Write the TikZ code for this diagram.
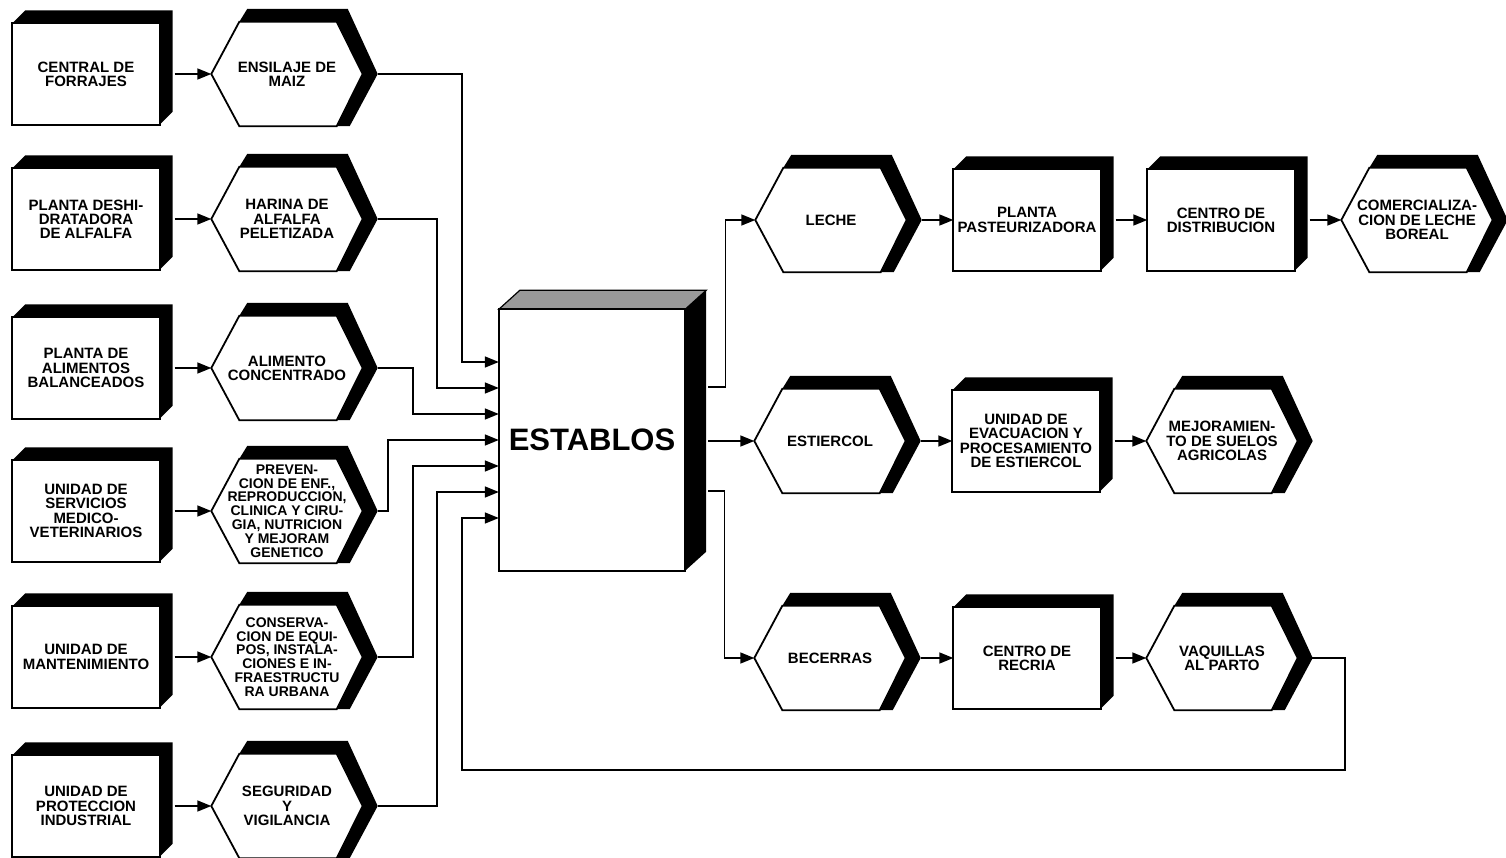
\documentclass[tikz,border=0pt]{standalone}
\usepackage{fontspec}
\setmainfont{Liberation Sans}
\usetikzlibrary{arrows.meta,calc,backgrounds}
\newcommand\rotulo{\fontsize{15}{14.2}\selectfont\bfseries}
\newcommand\chico{\fontsize{14}{13.8}\selectfont\bfseries}
\tikzset{caja/.style={rectangle,minimum width=147pt,minimum height=101pt,inner sep=2pt,align=center,font=\rotulo},hexa/.style={caja,minimum width=151pt,minimum height=104pt},flecha/.style={-{Triangle[length=14pt,width=11pt]},line width=1.6pt},borde/.style={line width=1.8pt,fill=white}}

\begin{document}
\begin{tikzpicture}[x=1pt,y=-1pt]
\useasboundingbox (0,0) rectangle (1506,858);
% servicios
\node[caja] (cfo) at (86,74) {CENTRAL DE\\FORRAJES};
\node[caja] (pda) at (86,219) {PLANTA DESHI-\\DRATADORA\\DE ALFALFA};
\node[caja] (pab) at (86,368) {PLANTA DE\\ALIMENTOS\\BALANCEADOS};
\node[caja] (usm) at (86,511) {UNIDAD DE\\SERVICIOS\\MEDICO-\\VETERINARIOS};
\node[caja] (uma) at (86,657) {UNIDAD DE\\MANTENIMIENTO};
\node[caja] (upi) at (86,806) {UNIDAD DE\\PROTECCION\\INDUSTRIAL};
% insumos
\node[hexa] (ens) at (287,74) {ENSILAJE DE\\MAIZ};
\node[hexa] (har) at (287,219) {HARINA DE\\ALFALFA\\PELETIZADA};
\node[hexa] (ali) at (287,368) {ALIMENTO\\CONCENTRADO};
\node[hexa,font=\chico] (pre) at (287,511) {PREVEN-\\CION DE ENF.,\\REPRODUCCION,\\CLINICA Y CIRU-\\GIA, NUTRICION\\Y MEJORAM\\GENETICO};
\node[hexa,font=\chico] (con) at (287,657) {CONSERVA-\\CION DE EQUI-\\POS, INSTALA-\\CIONES E IN-\\FRAESTRUCTU\\RA URBANA};
\node[hexa] (seg) at (287,806) {SEGURIDAD\\Y\\VIGILANCIA};
% establos
\node[minimum width=186pt,minimum height=261pt,font=\fontsize{31}{31}\selectfont\bfseries] (est) at (592,440) {ESTABLOS};
% productos
\node[hexa] (lec) at (831,220) {LECHE};
\node[caja] (ppa) at (1027,220) {PLANTA\\PASTEURIZADORA};
\node[caja] (cdi) at (1221,220) {CENTRO DE\\DISTRIBUCION};
\node[hexa] (clb) at (1417,220) {COMERCIALIZA-\\CION DE LECHE\\BOREAL};
\node[hexa] (esl) at (830,441) {ESTIERCOL};
\node[caja] (uep) at (1026,441) {UNIDAD DE\\EVACUACION Y\\PROCESAMIENTO\\DE ESTIERCOL};
\node[hexa] (msa) at (1222,441) {MEJORAMIEN-\\TO DE SUELOS\\AGRICOLAS};
\node[hexa] (bec) at (830,658) {BECERRAS};
\node[caja] (cre) at (1027,658) {CENTRO DE\\RECRIA};
\node[hexa] (vaq) at (1222,658) {VAQUILLAS\\AL PARTO};
\coordinate (retorno) at (1345,770);
\foreach \k in {1,...,7}
  \coordinate (e\k) at ($(est.west)+(0,{(\k-4)*26})$);
% cuerpos con sombra
\begin{scope}[on background layer]
\foreach \n in {cfo,pda,pab,usm,uma,upi,ppa,cdi,uep,cre} {
  \fill (\n.north west) -- ++(13,-13) -- ($(\n.north east)+(13,-13)$) -- ($(\n.south east)+(13,-13)$) -- (\n.south east) -- cycle;
  \draw[borde] (\n.north west) rectangle (\n.south east);
}
\foreach \n in {ens,har,ali,pre,con,seg,lec,clb,esl,msa,bec,vaq} {
  \fill ($(\n.north west)+(28,0)$) -- ++(8,-13) -- ($(\n.north east)+(-15,-13)$) -- ($(\n.east)+(15,0)$) -- ($(\n.south east)+(-13,0)$) -- ($(\n.south west)+(28,0)$) -- cycle;
  \draw[borde] (\n.west) -- ($(\n.north west)+(28,0)$) -- ($(\n.north east)+(-26,0)$) -- (\n.east) -- ($(\n.south east)+(-26,0)$) -- ($(\n.south west)+(28,0)$) -- cycle;
}
\filldraw[fill=black!40,line width=1.2pt] (est.north west) -- ++(21,-19) -- ($(est.north east)+(21,-19)$) -- (est.north east) -- cycle;
\fill (est.north east) -- ++(21,-19) -- ($(est.south east)+(21,-19)$) -- (est.south east) -- cycle;
\draw[borde] (est.north west) rectangle (est.south east);
\end{scope}
% flujos de entrada
\foreach \a/\b in {cfo/ens,pda/har,pab/ali,usm/pre,uma/con,upi/seg}
  \draw[flecha] ([xshift=15pt]\a.east) -- (\b.west);
\draw[flecha] ([xshift=15pt]ens.east) -| ($(e1)+(-37,0)$) -- (e1);
\draw[flecha] ([xshift=15pt]har.east) -| ($(e2)+(-62,0)$) -- (e2);
\draw[flecha] ([xshift=15pt]ali.east) -| ($(e3)+(-86,0)$) -- (e3);
\draw[flecha] ([xshift=15pt]pre.east) -| ($(e4)+(-111,0)$) -- (e4);
\draw[flecha] ([xshift=15pt]con.east) -| ($(e5)+(-86,0)$) -- (e5);
\draw[flecha] ([xshift=15pt]seg.east) -| ($(e6)+(-62,0)$) -- (e6);
\draw[flecha] ([xshift=7pt]vaq.east) -| (retorno) -| ($(e7)+(-37,0)$) -- (e7);
% flujos de salida
\draw[flecha] ($(est.east)+(23,-53)$) -| ($(lec.west)+(-30,0)$) -- (lec.west);
\draw[flecha] ($(est.east |- esl.west)+(23,0)$) -- (esl.west);
\draw[flecha] ($(est.east)+(23,51)$) -| ($(bec.west)+(-30,0)$) -- (bec.west);
\foreach \a/\b in {lec/ppa,esl/uep,bec/cre}
  \draw[flecha] ([xshift=15pt]\a.east) -- (\b.west);
\foreach \a/\b in {ppa/cdi,cdi/clb,uep/msa,cre/vaq}
  \draw[flecha] ([xshift=15pt]\a.east) -- (\b.west);
\end{tikzpicture}
\end{document}
